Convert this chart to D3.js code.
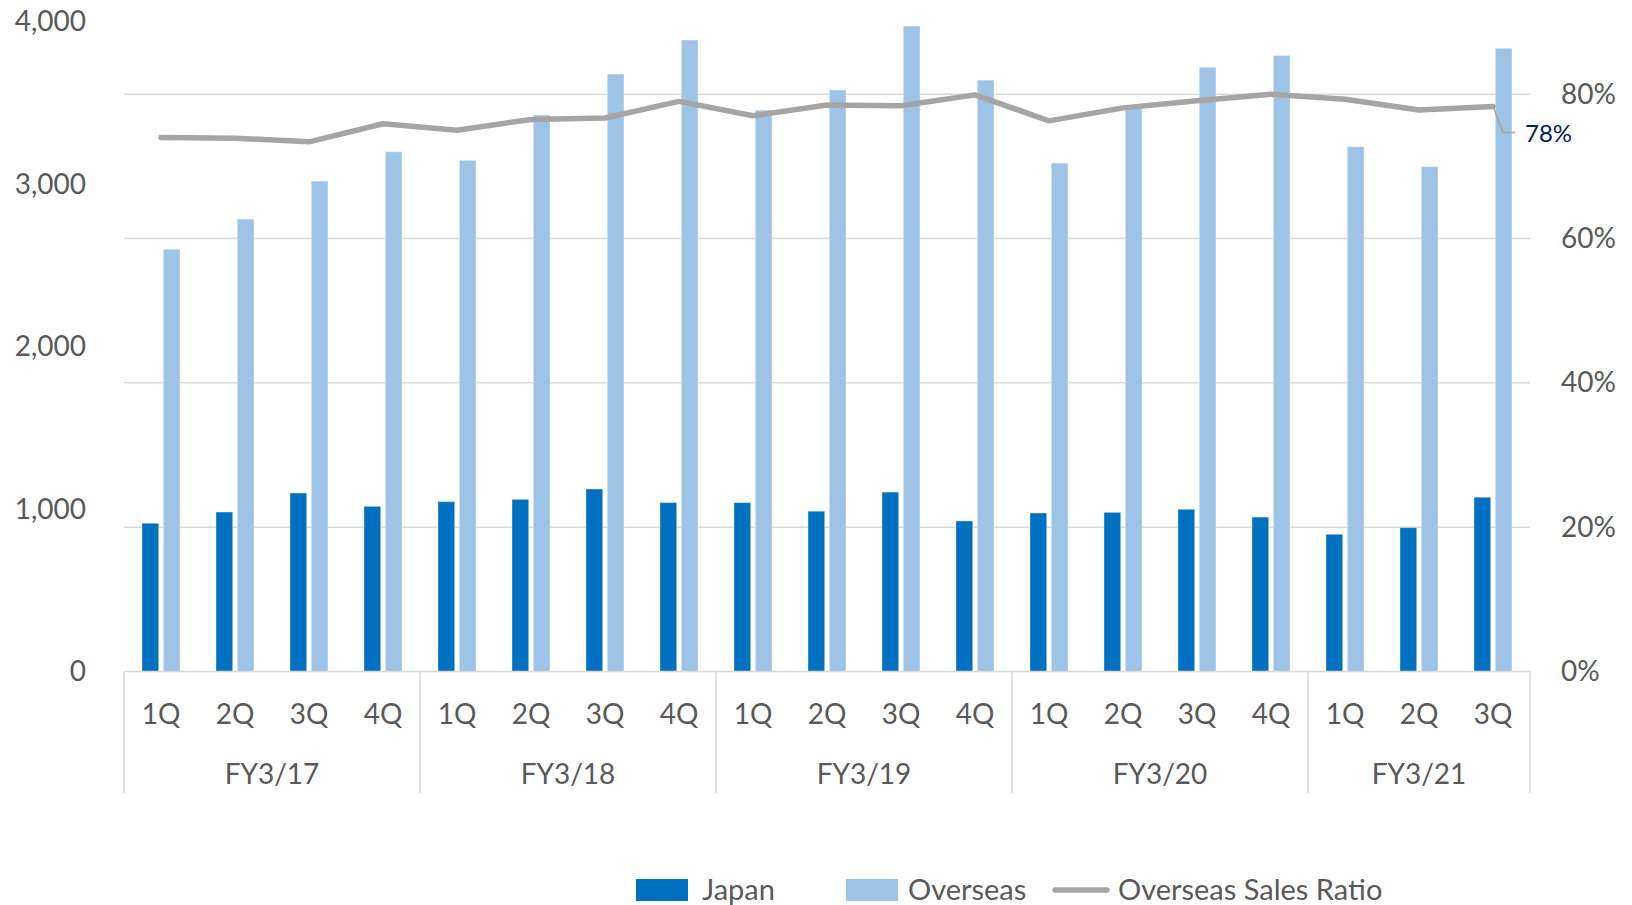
<!DOCTYPE html>
<html>
<head>
<meta charset="utf-8">
<script src="https://cdn.jsdelivr.net/npm/d3@7"></script>
<style>
  html, body { margin: 0; padding: 0; background: #ffffff; }
  svg { display: block; }
  text { font-family: Lato, "Noto Sans", sans-serif; }
</style>
</head>
<body>
<svg id="chart" width="1632" height="905"></svg>
<script>
// ---- data ----
const fiscalYears = ["FY3/17", "FY3/18", "FY3/19", "FY3/20", "FY3/21"];
const quarterLabels = ["1Q","2Q","3Q","4Q","1Q","2Q","3Q","4Q","1Q","2Q","3Q","4Q","1Q","2Q","3Q","4Q","1Q","2Q","3Q"];
const yearOfQuarter = ["FY3/17","FY3/17","FY3/17","FY3/17","FY3/18","FY3/18","FY3/18","FY3/18","FY3/19","FY3/19","FY3/19","FY3/19","FY3/20","FY3/20","FY3/20","FY3/20","FY3/21","FY3/21","FY3/21"];
const japan    = [913, 982, 1099, 1017, 1046, 1060, 1124, 1040, 1040, 987, 1105, 927, 976, 980, 999, 951, 845, 886, 1073];
const overseas = [2600, 2786, 3020, 3201, 3148, 3427, 3679, 3889, 3457, 3581, 3975, 3642, 3131, 3470, 3721, 3794, 3232, 3109, 3838];
const overseasRatio = [74.0, 73.9, 73.4, 75.9, 75.0, 76.5, 76.7, 79.0, 77.0, 78.5, 78.4, 79.9, 76.3, 78.1, 79.1, 80.0, 79.3, 77.8, 78.3];
const leftTicks = [0, 1000, 2000, 3000, 4000];
const rightTicks = [0, 20, 40, 60, 80];
const seriesNames = ["Japan", "Overseas", "Overseas Sales Ratio"];
const lastLabel = "78%";

// ---- layout ----
const colors = { Japan: "#0070C0", Overseas: "#9DC3E6", line: "#A5A5A5", text: "#595959", grid: "#D9D9D9", label: "#002060" };
const plot = { left: 124, right: 1530, top: 22, bottom: 671.5 };
const svg = d3.select("#chart");

const idx = d3.range(quarterLabels.length);
const x = d3.scaleBand().domain(idx).range([plot.left, plot.right]).padding(0);
const xInner = d3.scaleBand().domain(["Japan", "Overseas"]).range([-19, 19]).paddingInner(0.216);
const yL = d3.scaleLinear().domain([0, 4000]).range([plot.bottom, plot.top]);
const yR = d3.scaleLinear().domain([0, 90]).range([plot.bottom, plot.top]);

// gridlines (right axis ticks)
svg.append("g").selectAll("line").data(rightTicks.filter(d => d > 0)).join("line")
  .attr("x1", plot.left).attr("x2", plot.right)
  .attr("y1", d => yR(d)).attr("y2", d => yR(d))
  .attr("stroke", colors.grid).attr("stroke-width", 1.5);

// left axis
const leftAxis = d3.axisLeft(yL).tickValues(leftTicks).tickFormat(d3.format(",")).tickSize(0).tickPadding(0);
const gL = svg.append("g").attr("transform", "translate(86,0)").call(leftAxis);
gL.select(".domain").remove();
gL.selectAll("text").attr("fill", colors.text).attr("font-size", 28).attr("font-family", "Lato");

// right axis
const rightAxis = d3.axisRight(yR).tickValues(rightTicks).tickFormat(d => d + "%").tickSize(0).tickPadding(0);
const gR = svg.append("g").attr("transform", "translate(1561,0)").call(rightAxis);
gR.select(".domain").remove();
gR.selectAll("text").attr("fill", colors.text).attr("font-size", 28).attr("font-family", "Lato");

// bars
const bars = svg.append("g");
bars.selectAll("rect.jp").data(idx).join("rect").attr("class", "jp")
  .attr("x", i => x(i) + x.bandwidth() / 2 + xInner("Japan"))
  .attr("width", xInner.bandwidth())
  .attr("y", i => yL(japan[i]))
  .attr("height", i => yL(0) - yL(japan[i]))
  .attr("fill", colors.Japan)
  .attr("stroke", "#ffffff").attr("stroke-opacity", 0.35).attr("stroke-width", 1);
bars.selectAll("rect.os").data(idx).join("rect").attr("class", "os")
  .attr("x", i => x(i) + x.bandwidth() / 2 + xInner("Overseas"))
  .attr("width", xInner.bandwidth())
  .attr("y", i => yL(overseas[i]))
  .attr("height", i => yL(0) - yL(overseas[i]))
  .attr("fill", colors.Overseas)
  .attr("stroke", "#ffffff").attr("stroke-opacity", 0.35).attr("stroke-width", 1);

// category axis line & separators
const axisG = svg.append("g");
axisG.append("line").attr("x1", plot.left).attr("x2", plot.right)
  .attr("y1", plot.bottom).attr("y2", plot.bottom)
  .attr("stroke", colors.grid).attr("stroke-width", 1.5);

const groups = fiscalYears.map(fy => {
  const members = idx.filter(i => yearOfQuarter[i] === fy);
  return { fy, start: x(members[0]), end: x(members[members.length - 1]) + x.bandwidth() };
});
const sepXs = [groups[0].start].concat(groups.map(g => g.end));
axisG.selectAll("line.sep").data(sepXs).join("line").attr("class", "sep")
  .attr("x1", d => d).attr("x2", d => d)
  .attr("y1", plot.bottom).attr("y2", 793)
  .attr("stroke", colors.grid).attr("stroke-width", 1.5);

// quarter labels
axisG.selectAll("text.q").data(idx).join("text").attr("class", "q")
  .attr("x", i => x(i) + x.bandwidth() / 2)
  .attr("y", 714).attr("dy", "0.35em")
  .attr("text-anchor", "middle")
  .attr("fill", colors.text).attr("font-size", 28)
  .text(i => quarterLabels[i]);

// fiscal year labels
axisG.selectAll("text.fy").data(groups).join("text").attr("class", "fy")
  .attr("x", g => (g.start + g.end) / 2)
  .attr("y", 774).attr("dy", "0.35em")
  .attr("text-anchor", "middle")
  .attr("fill", colors.text).attr("font-size", 28)
  .text(g => g.fy);

// ratio line
const line = d3.line().x(i => x(i) + x.bandwidth() / 2).y(i => yR(overseasRatio[i]));
svg.append("path").datum(idx).attr("d", line)
  .attr("fill", "none").attr("stroke", colors.line).attr("stroke-width", 5.5)
  .attr("stroke-linecap", "round").attr("stroke-linejoin", "round");

// data label for last point with leader line
const li = idx[idx.length - 1];
const px = x(li) + x.bandwidth() / 2, py = yR(overseasRatio[li]);
svg.append("path")
  .attr("d", `M${px},${py} L${px + 10},${py + 26} L${px + 22},${py + 26}`)
  .attr("fill", "none").attr("stroke", colors.line).attr("stroke-width", 1.5);
svg.append("text").attr("x", px + 32).attr("y", py + 27).attr("dy", "0.35em")
  .attr("fill", colors.label).attr("font-size", 24)
  .text(lastLabel);

// legend
const legend = svg.append("g");
const legendItems = [
  { name: seriesNames[0], type: "rect", color: colors.Japan, x: 636, tx: 702 },
  { name: seriesNames[1], type: "rect", color: colors.Overseas, x: 846, tx: 908 },
  { name: seriesNames[2], type: "line", color: colors.line, x: 1055, tx: 1118 }
];
legendItems.forEach(it => {
  if (it.type === "rect") {
    legend.append("rect").attr("x", it.x).attr("y", 879).attr("width", 52).attr("height", 22).attr("fill", it.color);
  } else {
    legend.append("line").attr("x1", it.x).attr("x2", it.x + 52).attr("y1", 890).attr("y2", 890)
      .attr("stroke", it.color).attr("stroke-width", 5.5).attr("stroke-linecap", "round");
  }
  legend.append("text").attr("x", it.tx).attr("y", 890).attr("dy", "0.35em")
    .attr("fill", colors.text).attr("font-size", 29).text(it.name);
});
</script>
</body>
</html>
